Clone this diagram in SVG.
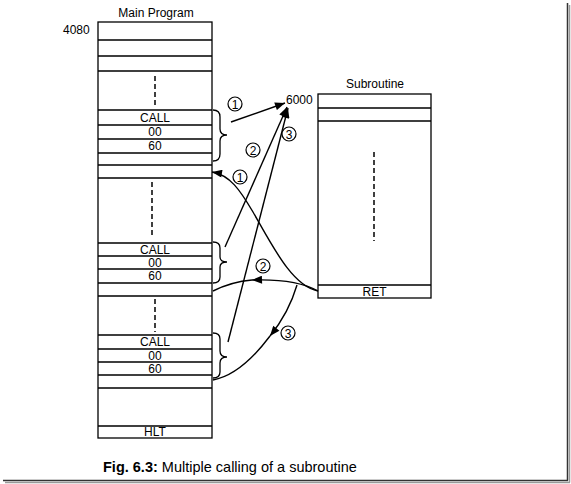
<svg xmlns="http://www.w3.org/2000/svg" width="571" height="484" viewBox="0 0 571 484">
<defs>
<style>
.box{fill:#fff;stroke:#000;stroke-width:1.3}
.ln{stroke:#000;stroke-width:1.3;fill:none}
.dash{stroke:#000;stroke-width:1.5;stroke-dasharray:5,3;fill:none}
.t{font-family:"Liberation Sans",Arial,sans-serif;font-size:12px;fill:#000}
.c{text-anchor:middle;dominant-baseline:central}
.cir{fill:#fff;stroke:#000;stroke-width:1.2}
.n{font-family:"Liberation Sans",Arial,sans-serif;font-size:12px;fill:#000;text-anchor:middle;dominant-baseline:central}
.arr{stroke:#000;stroke-width:1.4;fill:none}
</style>
<marker id="ah" viewBox="0 0 10 8" refX="10" refY="4" markerWidth="11" markerHeight="8" markerUnits="userSpaceOnUse" orient="auto">
<path d="M0,0 L10,4 L0,8 Z" fill="#000"/>
</marker>
</defs>
<rect width="571" height="484" fill="#fff"/>
<g id="frame">
<line x1="567.5" y1="3" x2="567.5" y2="480.5" stroke="#333" stroke-width="1.5"/>
<line x1="3" y1="480.5" x2="568" y2="480.5" stroke="#333" stroke-width="1.5"/>
<line x1="569.5" y1="5" x2="569.5" y2="482.5" stroke="#999" stroke-width="1.5"/>
<line x1="5" y1="482.5" x2="570" y2="482.5" stroke="#999" stroke-width="1.5"/>
</g>
<g id="main-program">
<text class="t" x="156" y="17" text-anchor="middle">Main Program</text>
<text class="t" x="63" y="34">4080</text>
<rect class="box" x="98" y="22" width="114" height="416"/>
<path class="ln" d="M98,40H212M98,56H212M98,71H212M98,110H212M98,125H212M98,139H212M98,153H212M98,165H212M98,178H212M98,243H212M98,256H212M98,269H212M98,283H212M98,296H212M98,335H212M98,349H212M98,362H212M98,375H212M98,388H212M98,426H212"/>
<line class="dash" x1="155" y1="76" x2="155" y2="108"/>
<line class="dash" x1="152" y1="182" x2="152" y2="235"/>
<line class="dash" x1="155" y1="299" x2="155" y2="332"/>
<text class="t c" x="155" y="118">CALL</text>
<text class="t c" x="155" y="132">00</text>
<text class="t c" x="155" y="146">60</text>
<text class="t c" x="155" y="250">CALL</text>
<text class="t c" x="155" y="263">00</text>
<text class="t c" x="155" y="276">60</text>
<text class="t c" x="155" y="342">CALL</text>
<text class="t c" x="155" y="356">00</text>
<text class="t c" x="155" y="369">60</text>
<text class="t c" x="155" y="432">HLT</text>
</g>
<g id="subroutine">
<text class="t" x="375" y="88" text-anchor="middle">Subroutine</text>
<text class="t" x="286" y="104">6000</text>
<rect class="box" x="318" y="94" width="113" height="204"/>
<path class="ln" d="M318,108H431M318,121H431M318,285H431"/>
<line class="dash" x1="374" y1="152" x2="374" y2="241"/>
<text class="t c" x="374.5" y="292">RET</text>
</g>
<g id="braces">
<path class="ln" d="M213,110 Q220,110 220,117 L220,129 Q220,135 227,135 Q220,135 220,141 L220,154 Q220,161 213,161"/>
<path class="ln" d="M213,242 Q220,242 220,248 L220,257 Q220,262 227,262 Q220,262 220,267 L220,277 Q220,283 213,283"/>
<path class="ln" d="M213,333 Q220,333 220,339 L220,351 Q220,357 227,357 Q220,357 220,363 L220,372 Q220,378 213,378"/>
</g>
<g id="connectors">
<line class="arr" x1="231" y1="122" x2="285" y2="103" marker-end="url(#ah)"/>
<line class="arr" x1="225" y1="247" x2="287" y2="107" marker-end="url(#ah)"/>
<line class="arr" x1="228" y1="342" x2="288" y2="108" marker-end="url(#ah)"/>
<path class="arr" d="M318,291 C292,286 272,245 253,212 C240,190 230,175 212,172" marker-end="url(#ah)"/>
<path class="arr" d="M318,291 C302,282 282,279 252,280" marker-end="url(#ah)"/>
<path class="arr" d="M252,280 C240,281 225,285 213,291"/>
<path class="arr" d="M297,285 C292,302 283,320 270,336" marker-end="url(#ah)"/>
<path class="arr" d="M270,336 C255,356 235,376 213,380"/>
</g>
<g id="labels">
<circle class="cir" cx="235" cy="104" r="7"/><text class="n" x="235" y="104.5">1</text>
<circle class="cir" cx="253" cy="150" r="7"/><text class="n" x="253" y="150.5">2</text>
<circle class="cir" cx="289" cy="134" r="7"/><text class="n" x="289" y="134.5">3</text>
<circle class="cir" cx="240" cy="177" r="7"/><text class="n" x="240" y="177.5">1</text>
<circle class="cir" cx="263" cy="266" r="7"/><text class="n" x="263" y="266.5">2</text>
<circle class="cir" cx="288" cy="333" r="7"/><text class="n" x="288" y="333.5">3</text>
</g>
<g id="caption">
<text x="103" y="472" font-family="'Liberation Sans',Arial,sans-serif" font-size="14.5" fill="#000"><tspan font-weight="bold">Fig. 6.3:</tspan> Multiple calling of a subroutine</text>
</g>
</svg>
